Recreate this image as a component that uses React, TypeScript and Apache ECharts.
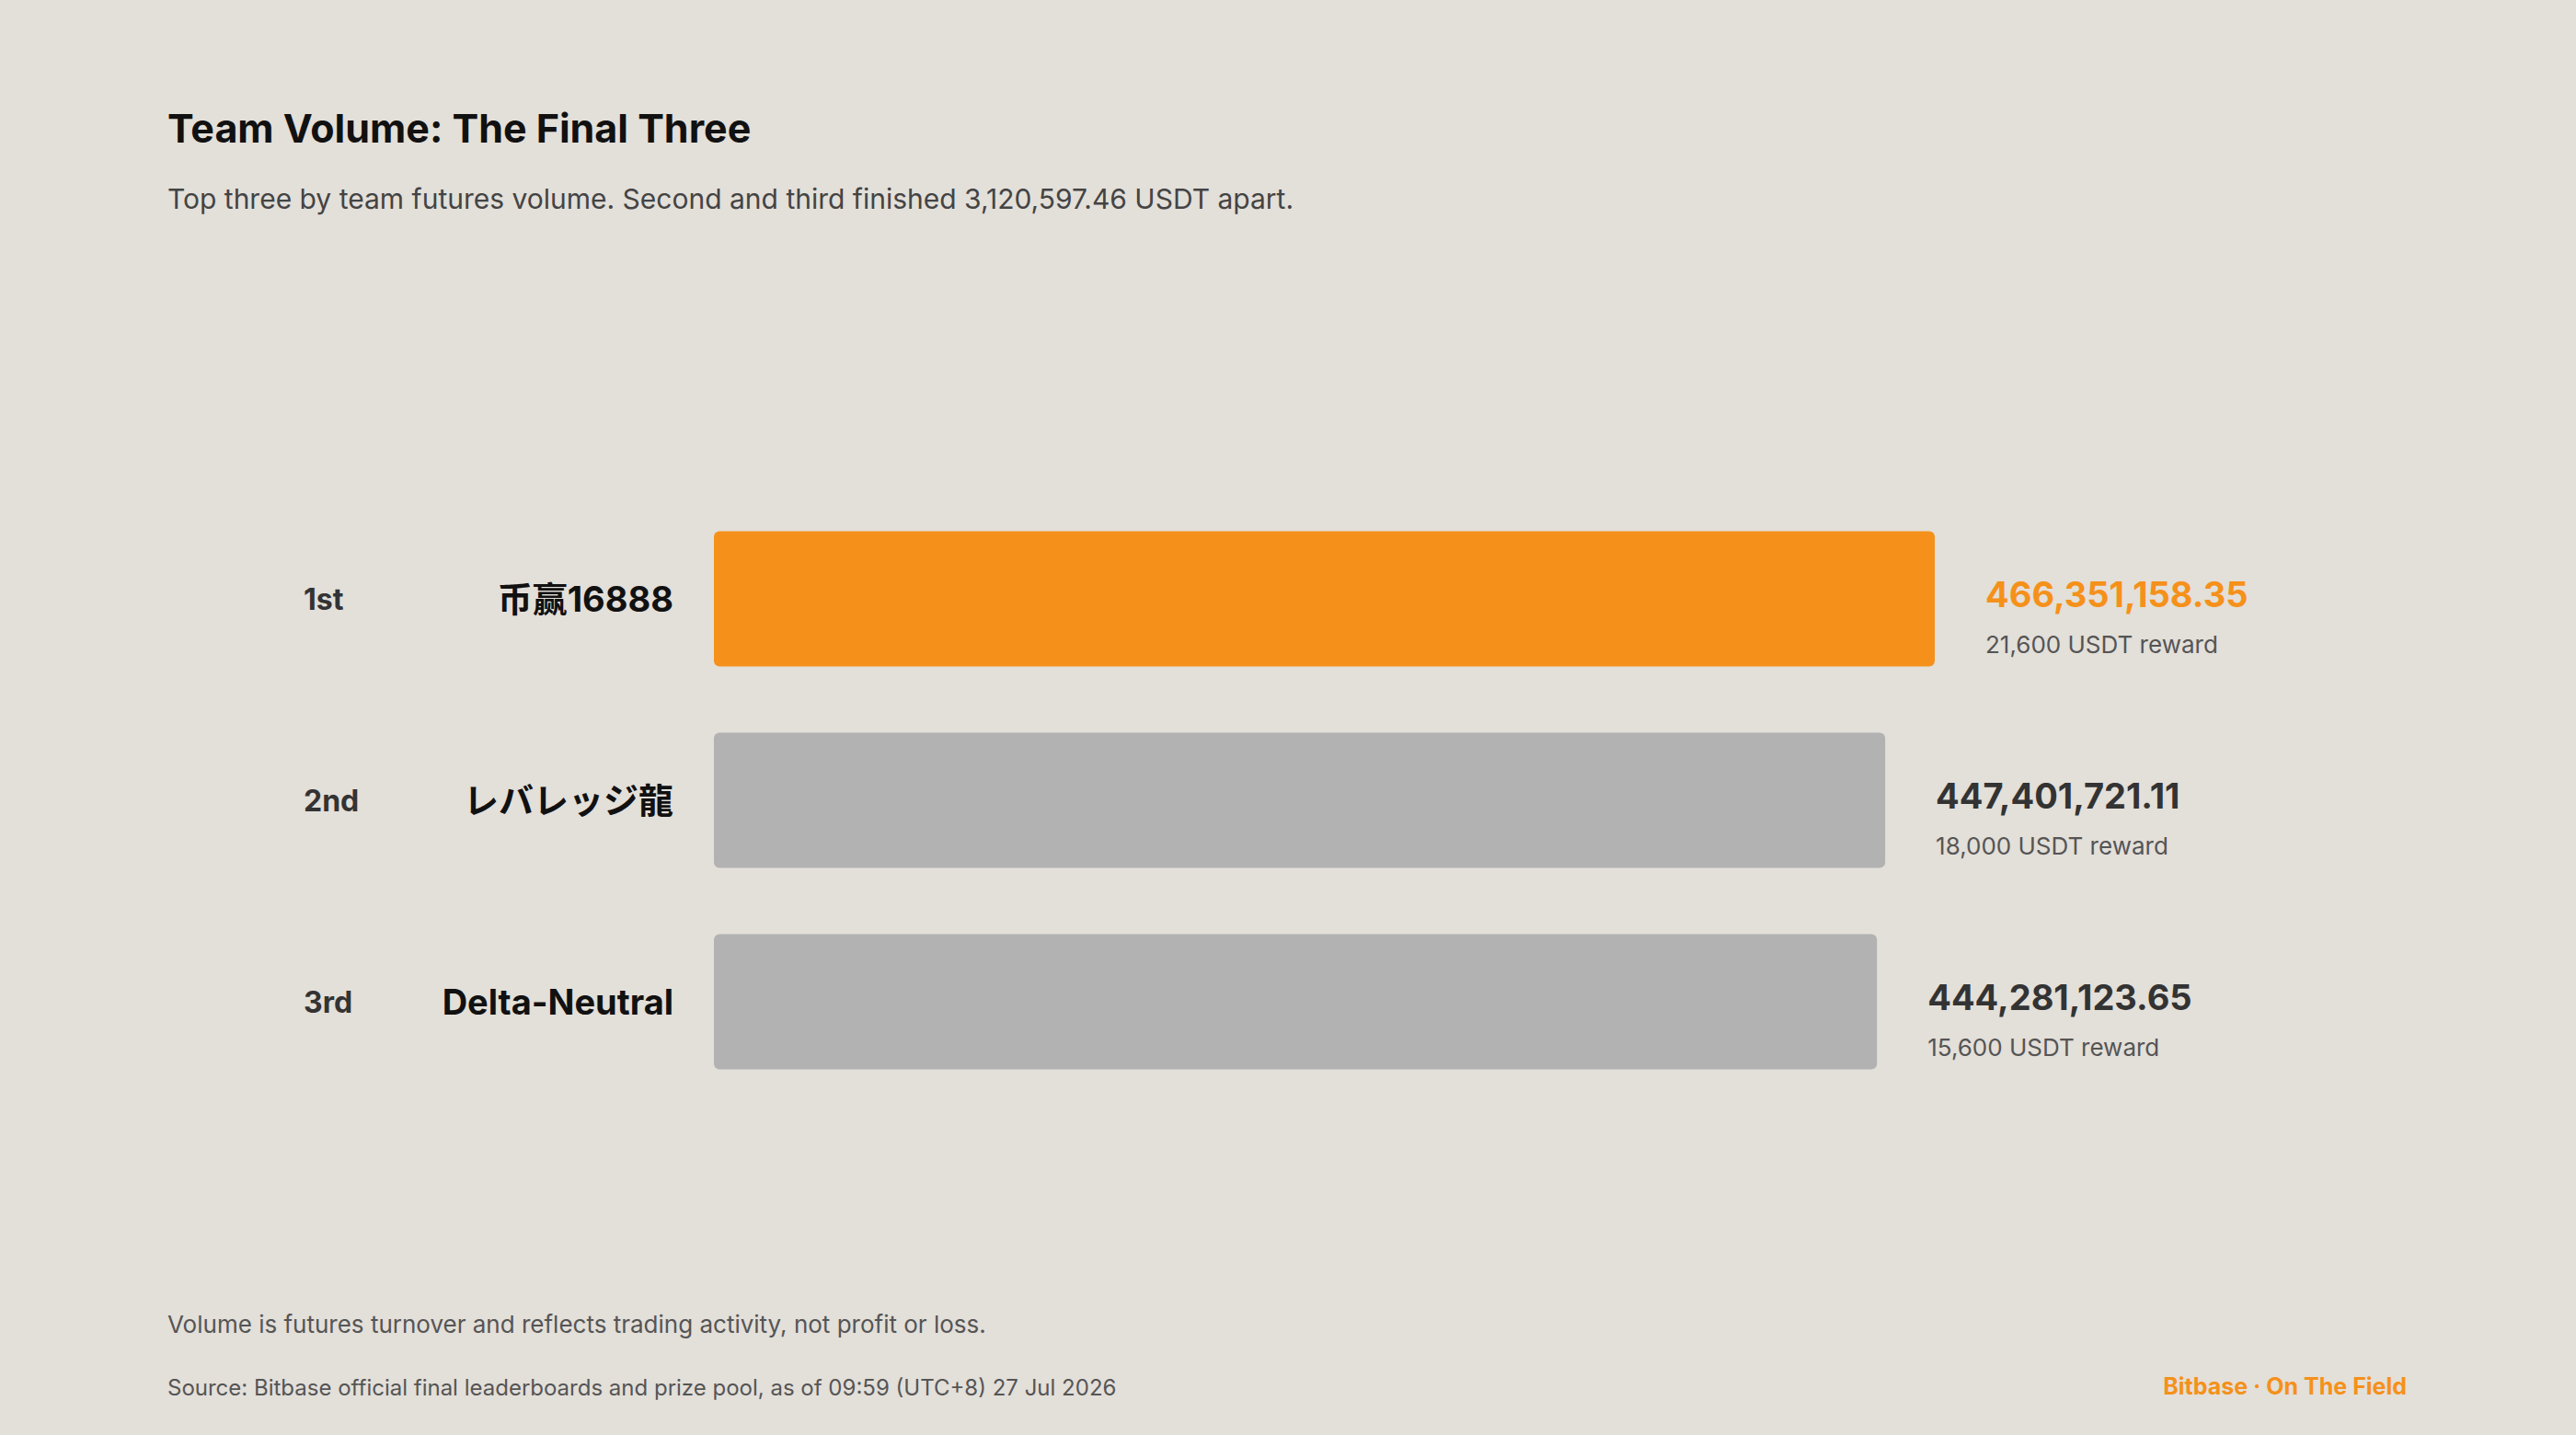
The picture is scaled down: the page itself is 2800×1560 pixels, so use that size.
import React, { useEffect, useRef } from "react";
import * as echarts from "echarts";

const ranks = ["1st", "2nd", "3rd"];
const teams = ["币赢16888", "レバレッジ龍", "Delta-Neutral"];
const volumes = [466351158.35, 447401721.11, 444281123.65];
const rewards = [21600, 18000, 15600];

const FONT = "Inter, 'Noto Sans CJK JP', sans-serif";
const ORANGE = "#F5911A";
const GREY = "#B2B2B2";

export default function App() {
  const ref = useRef<HTMLDivElement>(null);
  useEffect(() => {
    document.body.style.margin = "0";
    const chart = echarts.init(ref.current!, null, { renderer: "svg" });
    const fmt = (v: number) =>
      v.toLocaleString("en-US", { minimumFractionDigits: 2, maximumFractionDigits: 2 });
    chart.setOption({
      animation: false,
      backgroundColor: "#E3DFD9",
      textStyle: { fontFamily: FONT },
      grid: { left: 776, width: 1327, top: 541.5, height: 657 },
      xAxis: {
        type: "value",
        min: 0,
        max: volumes[0],
        show: false,
      },
      yAxis: [
        {
          type: "category",
          data: teams,
          inverse: true,
          axisLine: { show: false },
          axisTick: { show: false },
          splitLine: { show: false },
          axisLabel: {
            margin: 44,
            fontFamily: FONT,
            fontSize: 38,
            fontWeight: "bold",
            color: "#111111",
            padding: [0, 0, 8, 0],
          },
        },
        {
          type: "category",
          data: ranks,
          inverse: true,
          position: "left",
          axisLine: { show: false },
          axisTick: { show: false },
          splitLine: { show: false },
          axisLabel: {
            margin: 446,
            align: "left",
            fontFamily: FONT,
            fontSize: 32,
            fontWeight: "bold",
            color: "#333333",
            padding: [0, 0, 6, 0],
          },
        },
      ],
      series: [
        {
          type: "bar",
          yAxisIndex: 0,
          barWidth: 147,
          data: volumes.map((v, i) => ({
            value: v,
            itemStyle: { color: i === 0 ? ORANGE : GREY, borderRadius: 6 },
          })),
          label: {
            show: true,
            position: "right",
            distance: 55,
            offset: [0, 22],
            formatter: (p: any) =>
              `{${p.dataIndex === 0 ? "v1" : "v"}|${fmt(p.value)}}\n{r|${rewards[
                p.dataIndex
              ].toLocaleString("en-US")} USDT reward}`,
            rich: {
              v1: { fontFamily: FONT, fontSize: 38, fontWeight: "bold", color: ORANGE, lineHeight: 55 },
              v: { fontFamily: FONT, fontSize: 38, fontWeight: "bold", color: "#333333", lineHeight: 55 },
              r: { fontFamily: FONT, fontSize: 26, color: "#555555", lineHeight: 55 },
            },
          },
        },
      ],
      graphic: [
        {
          type: "text",
          left: 182,
          top: 117,
          style: {
            text: "Team Volume: The Final Three",
            font: `bold 43px ${FONT}`,
            fill: "#111111",
          },
        },
        {
          type: "text",
          left: 182,
          top: 201,
          style: {
            text: "Top three by team futures volume. Second and third finished 3,120,597.46 USDT apart.",
            font: `30px ${FONT}`,
            fill: "#444444",
          },
        },
        {
          type: "text",
          left: 182,
          top: 1426,
          style: {
            text: "Volume is futures turnover and reflects trading activity, not profit or loss.",
            font: `26px ${FONT}`,
            fill: "#555555",
          },
        },
        {
          type: "text",
          left: 182,
          top: 1496,
          style: {
            text: "Source: Bitbase official final leaderboards and prize pool, as of 09:59 (UTC+8) 27 Jul 2026",
            font: `24px ${FONT}`,
            fill: "#555555",
          },
        },
        {
          type: "text",
          right: 184,
          top: 1494,
          style: {
            text: "Bitbase · On The Field",
            font: `bold 25px ${FONT}`,
            fill: ORANGE,
          },
        },
      ],
    });
    return () => chart.dispose();
  }, []);
  return <div ref={ref} style={{ width: 2800, height: 1560 }} />;
}
